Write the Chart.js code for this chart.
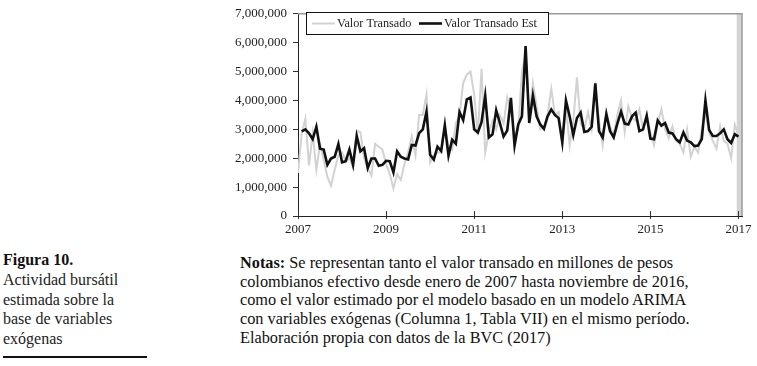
<!DOCTYPE html>
<html>
<head>
<meta charset="utf-8">
<script src="https://cdn.jsdelivr.net/npm/chart.js@4"></script>
<style>
  html, body { margin: 0; padding: 0; background: #fff; }
  body { width: 757px; height: 366px; position: relative; overflow: hidden; }
  #wrap { position: absolute; left: 0; top: 0; width: 757px; height: 240px; }
  .caption {
    position: absolute; left: 3px; top: 250px;
    font-family: "Liberation Serif", "DejaVu Serif", serif;
    font-size: 16px; line-height: 19.8px; color: #222;
  }
  .caption b { color: #111; }
  .rule { position: absolute; left: 3px; top: 356px; width: 144px; height: 2px; background: #111; }
  .notes {
    position: absolute; left: 240px; top: 254px;
    font-family: "Liberation Serif", "DejaVu Serif", serif;
    font-size: 16.3px; line-height: 18.7px; color: #111; white-space: nowrap;
  }
</style>
</head>
<body>
<div id="wrap"><canvas id="chart" width="757" height="240"></canvas></div>

<div class="caption"><b>Figura 10.</b><br>Actividad bursátil<br>estimada sobre la<br>base de variables<br>exógenas</div>
<div class="rule"></div>
<div class="notes"><b>Notas:</b> Se representan tanto el valor transado en millones de pesos<br>colombianos efectivo desde enero de 2007 hasta noviembre de 2016,<br>como el valor estimado por el modelo basado en un modelo ARIMA<br>con variables exógenas (Columna 1, Tabla VII) en el mismo período.<br>Elaboración propia con datos de la BVC (2017)</div>

<script>
const startYear = 2007;
const tickYears = [2007, 2009, 2011, 2013, 2015, 2017];
const bandYears = [2016.96, 2017.08];

// monthly values from Jan 2007 (millones de pesos)
const valorTransado = [
  1490000, 2850000, 3360000, 1750000, 2850000, 1600000, 2500000, 1950000, 1350000, 1050000,
  1600000, 2100000, 2200000, 1900000, 2000000, 1700000, 2950000, 2900000, 2000000, 1650000,
  1400000, 2500000, 2400000, 2300000, 1800000, 1450000, 950000, 1450000, 1250000, 1800000,
  2200000, 2750000, 2100000, 3500000, 3500000, 4200000, 1850000, 2100000, 2200000, 2200000,
  3100000, 2400000, 2300000, 3200000, 3500000, 4600000, 4900000, 5000000, 4200000, 2800000,
  5100000, 2200000, 2900000, 3300000, 3000000, 3500000, 3200000, 4100000, 3600000, 2800000,
  3000000, 5000000, 5600000, 3500000, 4600000, 3800000, 3000000, 3100000, 3500000, 4400000,
  3500000, 3600000, 2500000, 3800000, 2450000, 3300000, 4800000, 3200000, 3000000, 3600000,
  3000000, 4400000, 3300000, 2450000, 3600000, 3100000, 2800000, 3500000, 4000000, 2900000,
  3800000, 3400000, 3300000, 3700000, 3000000, 3500000, 2900000, 2450000, 3200000, 3700000,
  3000000, 2700000, 3100000, 2600000, 2500000, 2200000, 3000000, 2050000, 2400000, 2200000,
  3000000, 3560000, 2900000, 2600000, 2330000, 3100000, 2600000, 2500000, 2000000, 3160000,
  2800000
];

const valorTransadoEst = [
  null, 2930000, 3000000, 2860000, 2660000, 3090000, 2330000, 2300000, 1770000, 1990000,
  2050000, 2490000, 1860000, 1900000, 2300000, 1770000, 2770000, 2240000, 2350000, 1660000,
  1990000, 1990000, 1740000, 1770000, 1910000, 1900000, 1510000, 2240000, 2050000, 1990000,
  1960000, 2460000, 2440000, 2870000, 3000000, 3610000, 2120000, 1950000, 2400000, 2250000,
  3140000, 2090000, 2640000, 2500000, 3600000, 3320000, 4040000, 4100000, 3000000, 2890000,
  3250000, 4160000, 2720000, 2830000, 3660000, 3220000, 2750000, 2960000, 4090000, 2440000,
  3170000, 3450000, 5880000, 3220000, 4170000, 3450000, 3170000, 3020000, 3450000, 3690000,
  3500000, 3390000, 2550000, 4000000, 3450000, 2800000, 3390000, 3580000, 2910000, 2940000,
  3090000, 4590000, 2940000, 2720000, 3530000, 2940000, 2720000, 3200000, 3610000, 3200000,
  3170000, 3450000, 3580000, 2940000, 3000000, 3470000, 2680000, 2660000, 3310000, 3130000,
  3220000, 2890000, 2860000, 2660000, 2550000, 2890000, 2610000, 2550000, 2420000, 2440000,
  2660000, 4000000, 2980000, 2770000, 2770000, 2860000, 3000000, 2660000, 2530000, 2830000,
  2750000
];

const serif = '"Liberation Serif", "DejaVu Serif", serif';
const toPoints = (arr) => arr.map((v, i) => ({ x: startYear + i / 12, y: v }));

// grey band, top/right frame, crossing x ticks and the boxed legend
const framePlugin = {
  id: "frame",
  beforeDatasetsDraw(chart) {
    const { ctx, chartArea: a, scales: { x } } = chart;
    ctx.save();
    ctx.fillStyle = "#d4d4d4";
    const x0 = x.getPixelForValue(bandYears[0]);
    const x1 = x.getPixelForValue(bandYears[1]);
    ctx.fillRect(x0, a.top, x1 - x0, a.bottom - a.top);
    ctx.restore();
  },
  afterDraw(chart) {
    const { ctx, chartArea: a, scales: { x } } = chart;
    ctx.save();
    ctx.strokeStyle = "#9a9a9a";
    ctx.lineWidth = 1.5;
    ctx.beginPath();
    ctx.moveTo(a.left, a.top);
    ctx.lineTo(a.right, a.top);
    ctx.lineTo(a.right, a.bottom);
    ctx.stroke();

    ctx.strokeStyle = "#333";
    ctx.lineWidth = 1;
    tickYears.forEach((yr) => {
      const px = Math.round(x.getPixelForValue(yr)) + 0.5;
      ctx.beginPath();
      ctx.moveTo(px, a.bottom - 5);
      ctx.lineTo(px, a.bottom);
      ctx.stroke();
    });

    // legend box
    const bx = 306, by = 12, bw = 242, bh = 22;
    ctx.fillStyle = "#fff";
    ctx.fillRect(bx, by, bw, bh);
    ctx.strokeStyle = "#111";
    ctx.lineWidth = 1;
    ctx.strokeRect(bx + 0.5, by + 0.5, bw, bh);
    ctx.font = "12.2px " + serif;
    ctx.textBaseline = "middle";
    const cy = by + bh / 2 + 0.5;
    const ds = chart.data.datasets;
    const items = [
      { d: ds[1], x: 312 },
      { d: ds[0], x: 419 },
    ];
    items.forEach(({ d, x: lx }) => {
      ctx.strokeStyle = d.borderColor;
      ctx.lineWidth = d.borderWidth;
      ctx.beginPath();
      ctx.moveTo(lx, cy);
      ctx.lineTo(lx + 23, cy);
      ctx.stroke();
      ctx.fillStyle = "#222";
      ctx.fillText(d.label, lx + 25, cy);
    });
    ctx.restore();
  },
};

new Chart(document.getElementById("chart"), {
  type: "line",
  data: {
    datasets: [
      {
        label: "Valor Transado Est",
        data: toPoints(valorTransadoEst),
        borderColor: "#111111",
        borderWidth: 2.6,
        pointRadius: 0,
        tension: 0,
        order: 1,
      },
      {
        label: "Valor Transado",
        data: toPoints(valorTransado),
        borderColor: "#d2d2d2",
        borderWidth: 2,
        pointRadius: 0,
        tension: 0,
        order: 2,
      },
    ],
  },
  options: {
    responsive: false,
    animation: false,
    devicePixelRatio: 1,
    layout: { padding: { top: 7, right: 15, left: 0, bottom: 0 } },
    plugins: { legend: { display: false }, tooltip: { enabled: false } },
    scales: {
      x: {
        type: "linear",
        min: 2007,
        max: 2017.08,
        afterBuildTicks: (scale) => {
          scale.ticks = tickYears.map((v) => ({ value: v }));
        },
        afterFit: (scale) => { scale.height = 24; },
        border: { color: "#222", width: 1 },
        grid: { drawOnChartArea: false, tickLength: 3, color: "#333" },
        ticks: {
          color: "#222",
          padding: 3,
          maxRotation: 0,
          font: { family: serif, size: 13 },
          callback: (v) => String(v),
        },
      },
      y: {
        min: 0,
        max: 7000000,
        afterFit: (scale) => { scale.width = 298; },
        border: { color: "#222", width: 1 },
        grid: { drawOnChartArea: false, tickLength: 5, color: "#333" },
        ticks: {
          stepSize: 1000000,
          color: "#222",
          padding: 6,
          font: { family: serif, size: 13 },
          callback: (v) => v.toLocaleString("en-US"),
        },
      },
    },
  },
  plugins: [framePlugin],
});
</script>
</body>
</html>
